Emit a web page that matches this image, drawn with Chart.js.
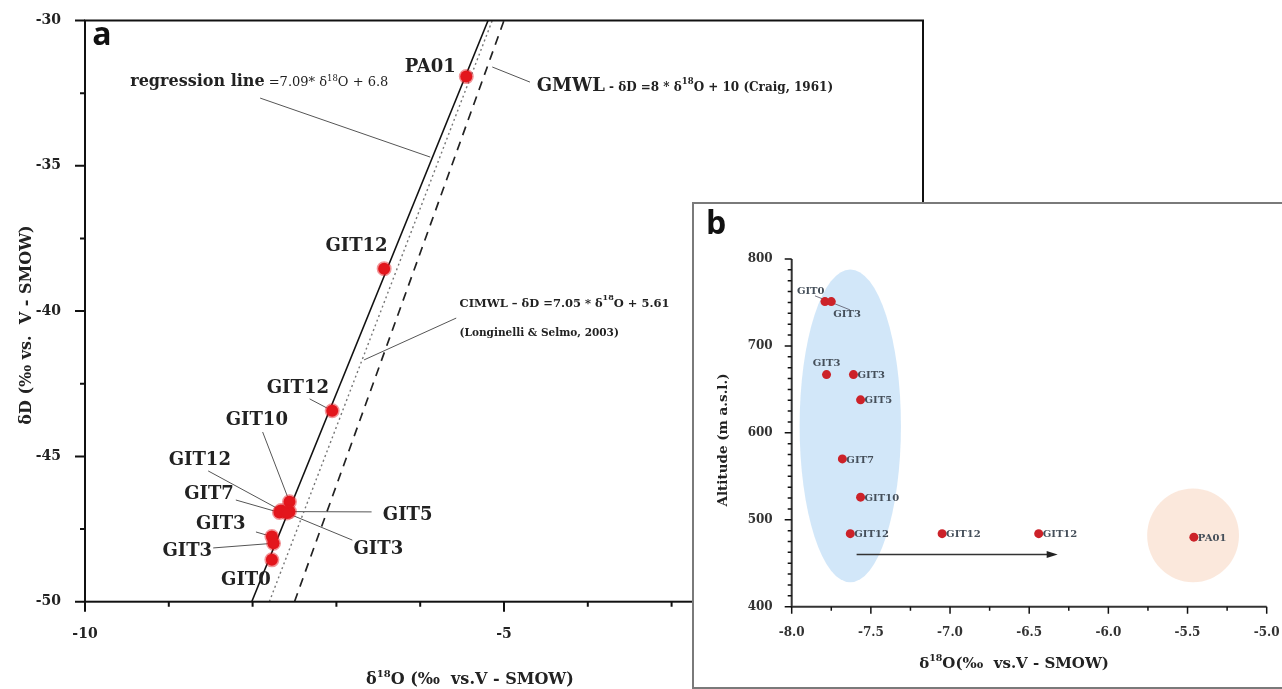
<!DOCTYPE html>
<html>
<head>
<meta charset="utf-8">
<script src="https://cdn.jsdelivr.net/npm/chart.js@4.4.1/dist/chart.umd.min.js"></script>
<style>
html, body { margin: 0; padding: 0; background: #fff; overflow: hidden; }
#wrapA { position: absolute; left: 0; top: -4px; }
#boxB { position: absolute; left: 692px; top: 202px; width: 600px; height: 483px; border: 2px solid #7a7a7a; background: #fff; }
#wrapB { position: absolute; left: 693px; top: 203px; }
</style>
</head>
<body>
<div id="wrapA"><canvas id="chartA" width="945" height="693"></canvas></div>
<div id="boxB"></div>
<div id="wrapB"><canvas id="chartB" width="599" height="486"></canvas></div>
<script>
// ---- panel a : d18O vs dD ----
const samplesA = ['PA01', 'GIT12', 'GIT12', 'GIT10', 'GIT12', 'GIT7', 'GIT5', 'GIT3', 'GIT3', 'GIT3', 'GIT0'];
const d18O_A = [-5.45, -6.43, -7.05, -7.56, -7.66, -7.68, -7.56, -7.59, -7.77, -7.75, -7.77];
const dD_A = [-31.93, -38.54, -43.43, -46.56, -46.86, -46.93, -46.90, -46.95, -47.76, -47.99, -48.56];

// reference lines, read at dD = -50 and dD = -30
const lineD = [-50, -30];
const regO = [-8.01, -5.19];
const cimwlO = [-7.80, -5.14];
const gmwlO = [-7.50, -5.00];

const xTicksA = [-10, 0];
const yTicksA = [-50, -30];

// ---- panel b : d18O vs altitude ----
const samplesB = ['GIT0', 'GIT3', 'GIT3', 'GIT3', 'GIT5', 'GIT7', 'GIT10', 'GIT12', 'GIT12', 'GIT12', 'PA01'];
const d18O_B = [-7.79, -7.75, -7.78, -7.61, -7.565, -7.68, -7.565, -7.63, -7.05, -6.44, -5.46];
const altB = [751, 751, 667, 667, 638, 570, 526, 484, 484, 484, 480];

// shaded groups (centre, half widths) and shift arrow
const zoneO = [-7.63, -5.465];
const zoneAlt = [608, 482];
const zoneHalfO = [0.32, 0.29];
const zoneHalfAlt = [180, 54];
const zoneColor = ['rgba(205,228,248,0.9)', 'rgba(251,230,216,0.9)'];
const arrowO = [-7.59, -6.32];
const arrowAlt = [460, 460];

const xTicksB = [-8, -5];
const yTicksB = [400, 800];

const SERIF = '"DejaVu Serif", "Liberation Serif", serif';
const SANS = '"Open Sans", "Liberation Sans", sans-serif';

function drawRich(ctx, parts, x, cy, align) {
    // parts: [text, size, weight, rise]
    let w = 0;
    for (const p of parts) {
        ctx.font = (p[2] || 'bold') + ' ' + p[1] + 'px ' + SERIF;
        w += ctx.measureText(p[0]).width;
    }
    let cx = align === 'center' ? x - w / 2 : x;
    const base = cy + parts[0][1] * 0.36;
    ctx.textAlign = 'left';
    ctx.textBaseline = 'alphabetic';
    for (const p of parts) {
        ctx.font = (p[2] || 'bold') + ' ' + p[1] + 'px ' + SERIF;
        ctx.fillText(p[0], cx, base - (p[3] || 0));
        cx += ctx.measureText(p[0]).width;
    }
}

function drawTickMarks(chart, major, minor, width) {
    const ctx = chart.ctx;
    const area = chart.chartArea;
    const xs = chart.scales.x, ys = chart.scales.y;
    ctx.save();
    ctx.strokeStyle = '#111';
    ctx.lineWidth = width;
    ctx.beginPath();
    xs.ticks.forEach(t => {
        const px = xs.getPixelForValue(t.value);
        ctx.moveTo(px, area.bottom);
        ctx.lineTo(px, area.bottom + (t.label !== '' ? major : minor));
    });
    ys.ticks.forEach(t => {
        const py = ys.getPixelForValue(t.value);
        ctx.moveTo(area.left, py);
        ctx.lineTo(area.left - (t.label !== '' ? major : minor), py);
    });
    ctx.stroke();
    ctx.restore();
}

// label text centre, leader start, point index
const labelsA = [
    [-5.88, -31.56, null, 0],
    [-6.76, -37.70, null, 1],
    [-7.46, -42.61, [-7.32, -43.02], 2],
    [-7.95, -43.68, [-7.88, -44.16], 3],
    [-8.63, -45.06, [-8.53, -45.50], 4],
    [-8.52, -46.23, [-8.20, -46.50], 5],
    [-6.15, -46.95, [-6.58, -46.91], 6],
    [-6.50, -48.12, [-6.81, -47.88], 7],
    [-8.38, -47.26, [-7.96, -47.60], 8],
    [-8.78, -48.22, [-8.47, -48.15], 9],
    [-8.08, -49.19, null, 10]
];

const annotA = {
    id: 'annotA',
    beforeDatasetsDraw(chart) {
        const ctx = chart.ctx, x = chart.scales.x, y = chart.scales.y;
        ctx.save();
        ctx.strokeStyle = '#555';
        ctx.lineWidth = 1;
        ctx.beginPath();
        labelsA.forEach(l => {
            if (!l[2]) return;
            ctx.moveTo(x.getPixelForValue(l[2][0]), y.getPixelForValue(l[2][1]));
            ctx.lineTo(x.getPixelForValue(d18O_A[l[3]]), y.getPixelForValue(dD_A[l[3]]));
        });
        // equation leaders
        [[-7.91, -32.67, -5.88, -34.70], [-5.14, -31.60, -4.69, -32.12], [-5.57, -40.24, -6.67, -41.68]].forEach(s => {
            ctx.moveTo(x.getPixelForValue(s[0]), y.getPixelForValue(s[1]));
            ctx.lineTo(x.getPixelForValue(s[2]), y.getPixelForValue(s[3]));
        });
        ctx.stroke();
        ctx.restore();
    },
    afterDraw(chart) {
        const ctx = chart.ctx, x = chart.scales.x, y = chart.scales.y, area = chart.chartArea;
        ctx.save();
        ctx.strokeStyle = '#111';
        ctx.lineWidth = 2;
        ctx.strokeRect(area.left, area.top, area.right - area.left, area.bottom - area.top);
        ctx.restore();
        drawTickMarks(chart, 10, 5, 2);

        ctx.save();
        ctx.fillStyle = '#222';
        labelsA.forEach(l => {
            drawRich(ctx, [[samplesA[l[3]], 18, 'bold']], x.getPixelForValue(l[0]), y.getPixelForValue(l[1]), 'center');
        });
        drawRich(ctx, [['regression line', 16, 'bold'], [' =7.09* \u03b4', 13, 'normal'], ['18', 8.5, 'normal', 5], ['O + 6.8', 13, 'normal']],
            x.getPixelForValue(-9.46), y.getPixelForValue(-32.05), 'left');
        drawRich(ctx, [['GMWL', 18, 'bold'], [' - \u03b4D =8 * \u03b4', 12, 'bold'], ['18', 8.5, 'bold', 7], ['O + 10 (Craig, 1961)', 12, 'bold']],
            x.getPixelForValue(-4.61), y.getPixelForValue(-32.22), 'left');
        drawRich(ctx, [['CIMWL \u2013 \u03b4D =7.05 * \u03b4', 11.5, 'bold'], ['18', 8, 'bold', 7], ['O + 5.61', 11.5, 'bold']],
            x.getPixelForValue(-5.53), y.getPixelForValue(-39.72), 'left');
        drawRich(ctx, [['(Longinelli & Selmo, 2003)', 10.5, 'bold']],
            x.getPixelForValue(-5.53), y.getPixelForValue(-40.72), 'left');

        // axis titles
        drawRich(ctx, [['\u03b4', 16, 'bold'], ['18', 10, 'bold', 7], ['O (\u2030  vs.V - SMOW)', 16, 'bold']], 470, 682, 'center');
        ctx.translate(25, 329);
        ctx.rotate(-Math.PI / 2);
        drawRich(ctx, [['\u03b4D (\u2030 vs.  V - SMOW)', 16, 'bold']], 0, 0, 'center');
        ctx.restore();

        ctx.save();
        ctx.fillStyle = '#111';
        ctx.font = 'bold 32px ' + SANS;
        ctx.textAlign = 'center';
        ctx.textBaseline = 'middle';
        ctx.fillText('a', 102, 40);
        ctx.restore();
    }
};

const ctxA = document.getElementById('chartA').getContext('2d');
const chartA = new Chart(ctxA, {
    type: 'scatter',
    data: {
        datasets: [
            {
                data: d18O_A.map((v, i) => ({ x: v, y: dD_A[i] })),
                backgroundColor: '#e3161c',
                borderColor: 'rgba(227,22,28,0.45)',
                borderWidth: 3,
                pointRadius: 6,
                order: 0
            },
            {
                data: lineD.map((v, i) => ({ x: regO[i], y: v })),
                showLine: true, pointRadius: 0, borderColor: '#111', borderWidth: 1.6, order: 1
            },
            {
                data: lineD.map((v, i) => ({ x: cimwlO[i], y: v })),
                showLine: true, pointRadius: 0, borderColor: '#777', borderWidth: 1.4, borderDash: [2, 3], order: 1
            },
            {
                data: lineD.map((v, i) => ({ x: gmwlO[i], y: v })),
                showLine: true, pointRadius: 0, borderColor: '#222', borderWidth: 1.7, borderDash: [9, 7], order: 1
            }
        ]
    },
    options: {
        responsive: false,
        animation: false,
        layout: { padding: { left: 0, top: 24.5, right: 22, bottom: 0 } },
        plugins: { legend: { display: false }, tooltip: { enabled: false } },
        scales: {
            x: {
                min: xTicksA[0], max: xTicksA[1],
                grid: { display: false },
                border: { display: false },
                ticks: {
                    stepSize: 1, autoSkip: false, maxRotation: 0, padding: 16,
                    color: '#222', font: { family: SERIF, size: 14, weight: 'bold' },
                    callback: v => Math.abs(v % 5) < 1e-9 ? v : ''
                },
                afterFit: s => { s.height = 87.3; }
            },
            y: {
                min: yTicksA[0], max: yTicksA[1],
                grid: { display: false },
                border: { display: false },
                ticks: {
                    stepSize: 2.5, autoSkip: false, padding: 16,
                    color: '#222', font: { family: SERIF, size: 14, weight: 'bold' },
                    callback: v => Math.abs(v % 5) < 1e-9 ? v : ''
                },
                afterFit: s => { s.width = 85; }
            }
        }
    },
    plugins: [annotA]
});

// ---- panel b ----
const labelsB = [
    [-7.88, 764, 0], [-7.65, 737, 1], [-7.78, 681, 2]
];

const annotB = {
    id: 'annotB',
    beforeDatasetsDraw(chart) {
        const ctx = chart.ctx, x = chart.scales.x, y = chart.scales.y;
        ctx.save();
        zoneO.forEach((c, i) => {
            const px = x.getPixelForValue(c), py = y.getPixelForValue(zoneAlt[i]);
            const rx = Math.abs(x.getPixelForValue(c + zoneHalfO[i]) - px);
            const ry = Math.abs(y.getPixelForValue(zoneAlt[i] + zoneHalfAlt[i]) - py);
            ctx.fillStyle = zoneColor[i];
            ctx.beginPath();
            ctx.ellipse(px, py, rx, ry, 0, 0, Math.PI * 2);
            ctx.fill();
        });
        // arrow
        const x0 = x.getPixelForValue(arrowO[0]), x1 = x.getPixelForValue(arrowO[1]);
        const y0 = y.getPixelForValue(arrowAlt[0]), y1 = y.getPixelForValue(arrowAlt[1]);
        ctx.strokeStyle = '#333';
        ctx.fillStyle = '#222';
        ctx.lineWidth = 1.5;
        ctx.beginPath();
        ctx.moveTo(x0, y0);
        ctx.lineTo(x1 - 8, y1);
        ctx.stroke();
        ctx.beginPath();
        ctx.moveTo(x1, y1);
        ctx.lineTo(x1 - 11, y1 - 3.5);
        ctx.lineTo(x1 - 11, y1 + 3.5);
        ctx.closePath();
        ctx.fill();
        // GIT0 / GIT3 leader
        ctx.strokeStyle = '#556';
        ctx.lineWidth = 0.8;
        ctx.beginPath();
        ctx.moveTo(x.getPixelForValue(-7.853), y.getPixelForValue(757.6));
        ctx.lineTo(x.getPixelForValue(-7.632), y.getPixelForValue(741.5));
        ctx.stroke();
        ctx.restore();
    },
    afterDraw(chart) {
        const ctx = chart.ctx, x = chart.scales.x, y = chart.scales.y, area = chart.chartArea;
        ctx.save();
        ctx.strokeStyle = '#333';
        ctx.lineWidth = 2;
        ctx.beginPath();
        ctx.moveTo(area.left, area.top);
        ctx.lineTo(area.left, area.bottom);
        ctx.lineTo(area.right, area.bottom);
        ctx.stroke();
        ctx.restore();
        drawTickMarks(chart, 7, 4, 1.5);

        ctx.save();
        ctx.fillStyle = '#454f5a';
        const special = labelsB.map(l => l[2]);
        samplesB.forEach((s, i) => {
            if (special.includes(i)) return;
            drawRich(ctx, [[s, 10, 'bold']], x.getPixelForValue(d18O_B[i]) + 4, y.getPixelForValue(altB[i]), 'left');
        });
        labelsB.forEach(l => {
            drawRich(ctx, [[samplesB[l[2]], 10, 'bold']], x.getPixelForValue(l[0]), y.getPixelForValue(l[1]), 'center');
        });

        ctx.fillStyle = '#222';
        drawRich(ctx, [['\u03b4', 15, 'bold'], ['18', 9.5, 'bold', 7], ['O(\u2030  vs.V - SMOW)', 15, 'bold']], 321, 460, 'center');
        ctx.translate(29, 237);
        ctx.rotate(-Math.PI / 2);
        drawRich(ctx, [['Altitude (m a.s.l.)', 13.5, 'bold']], 0, 0, 'center');
        ctx.restore();

        ctx.save();
        ctx.fillStyle = '#111';
        ctx.font = 'bold 32px ' + SANS;
        ctx.textAlign = 'center';
        ctx.textBaseline = 'middle';
        ctx.fillText('b', 23, 22);
        ctx.restore();
    }
};

const ctxB = document.getElementById('chartB').getContext('2d');
const chartB = new Chart(ctxB, {
    type: 'scatter',
    data: {
        datasets: [{
            data: d18O_B.map((v, i) => ({ x: v, y: altB[i] })),
            backgroundColor: '#cc2229',
            borderWidth: 0,
            pointRadius: 4.5
        }]
    },
    options: {
        responsive: false,
        animation: false,
        layout: { padding: { left: 0, top: 56, right: 25.3, bottom: 0 } },
        plugins: { legend: { display: false }, tooltip: { enabled: false } },
        scales: {
            x: {
                min: xTicksB[0], max: xTicksB[1],
                grid: { display: false },
                border: { display: false },
                ticks: {
                    stepSize: 0.25, autoSkip: false, maxRotation: 0, padding: 11,
                    color: '#333', font: { family: SERIF, size: 12, weight: 'bold' },
                    callback: v => Math.abs(v % 0.5) < 1e-9 ? v.toFixed(1) : ''
                },
                afterFit: s => { s.height = 82.3; }
            },
            y: {
                min: yTicksB[0], max: yTicksB[1],
                grid: { display: false },
                border: { display: false },
                ticks: {
                    stepSize: 12.5, autoSkip: false, padding: 11,
                    color: '#333', font: { family: SERIF, size: 12, weight: 'bold' },
                    callback: v => Math.abs(v % 100) < 1e-9 ? v : ''
                },
                afterFit: s => { s.width = 98.7; }
            }
        }
    },
    plugins: [annotB]
});
</script>
</body>
</html>
